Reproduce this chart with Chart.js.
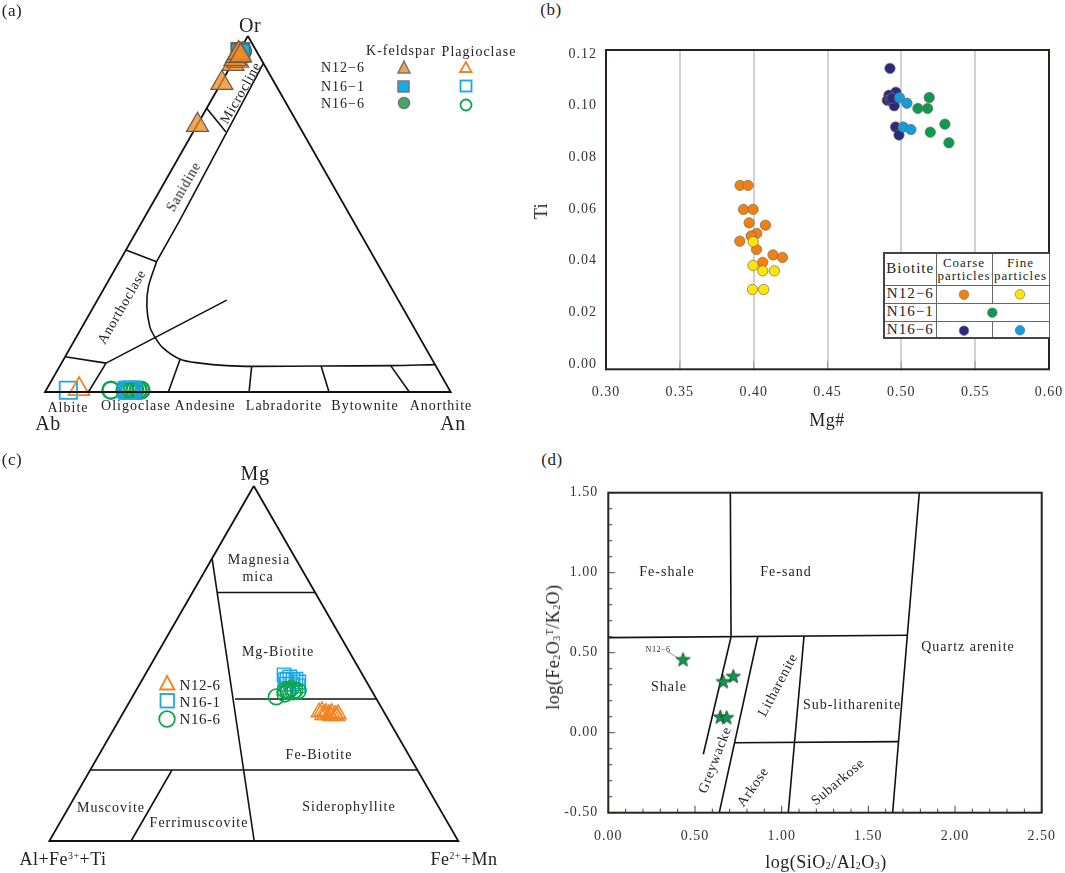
<!DOCTYPE html>
<html>
<head>
<meta charset="utf-8">
<title>Feldspar and biotite classification diagrams</title>
<script src="https://cdn.jsdelivr.net/npm/chart.js@4/dist/chart.umd.min.js"></script>
<style>
  html, body { margin: 0; background: #fff; }
  #page { position: relative; width: 1065px; height: 873px; overflow: hidden; font-family: "Liberation Serif", serif; color: #222; }
  canvas { position: absolute; }
  .t { position: absolute; white-space: nowrap; transform: translate(-50%, -50%); font-size: 14px; letter-spacing: 1px; line-height: 1; }
  .rot { letter-spacing: 0.7px; }
  .corner { font-size: 20px; letter-spacing: 0.5px; }
  .panel { font-size: 17px; letter-spacing: 0.5px; }
  .axis { font-size: 18px; letter-spacing: 0.5px; }
  .t sub, .t sup { font-size: 55%; line-height: 0; }
  .t sub { vertical-align: -0.15em; }
  .t sup { vertical-align: 0.65em; }
  #keys { position: absolute; left: 0; top: 0; z-index: 3; pointer-events: none; }
  table { position: absolute; left: 883px; top: 252px; width: 165px; height: 85px; border-collapse: collapse; background: #fff; table-layout: fixed; font-size: 15px; letter-spacing: 1px; text-align: center; z-index: 2; }
  td { border: 1px solid #666; padding: 0; line-height: 1.05; }
  table { border-top: 2px solid #444; border-left: 2px solid #444; border-bottom: 2px solid #444; }
  .small { font-size: 13px; }
</style>
</head>
<body>
<div id="page">
  <canvas id="chartA" width="530" height="440" style="left:0;top:0"></canvas>
  <canvas id="chartB" width="535" height="410" style="left:530px;top:30px"></canvas>
  <canvas id="chartC" width="500" height="423" style="left:0;top:450px"></canvas>
  <canvas id="chartD" width="535" height="403" style="left:530px;top:470px"></canvas>

  <span class="t panel" style="left:12px;top:10px">(a)</span>
  <span class="t panel" style="left:551px;top:9px">(b)</span>
  <span class="t panel" style="left:12px;top:459px">(c)</span>
  <span class="t panel" style="left:552px;top:459px">(d)</span>

  <!-- panel a -->
  <span class="t corner" style="left:250px;top:25px">Or</span>
  <span class="t corner" style="left:48px;top:423px">Ab</span>
  <span class="t corner" style="left:453px;top:423px">An</span>
  <span class="t rot" style="left:241px;top:93px;transform:translate(-50%,-50%) rotate(-60deg)">Microcline</span>
  <span class="t rot" style="left:184px;top:187px;transform:translate(-50%,-50%) rotate(-60deg)">Sanidine</span>
  <span class="t rot" style="left:122px;top:307px;transform:translate(-50%,-50%) rotate(-60deg)">Anorthoclase</span>
  <span class="t" style="left:68px;top:408px">Albite</span>
  <span class="t" style="left:136px;top:406px">Oligoclase</span>
  <span class="t" style="left:205px;top:406px">Andesine</span>
  <span class="t" style="left:284px;top:406px">Labradorite</span>
  <span class="t" style="left:365px;top:406px">Bytownite</span>
  <span class="t" style="left:441px;top:406px">Anorthite</span>
  <span class="t" style="left:401px;top:51px">K-feldspar</span>
  <span class="t" style="left:479px;top:52px">Plagioclase</span>
  <span class="t" style="left:343px;top:68px">N12−6</span>
  <span class="t" style="left:343px;top:87px">N16−1</span>
  <span class="t" style="left:343px;top:104px">N16−6</span>

  <!-- panel b -->
  <span class="t axis" style="left:541px;top:211px;transform:translate(-50%,-50%) rotate(-90deg)">Ti</span>
  <span class="t axis" style="left:827px;top:420px">Mg#</span>
  <table>
    <colgroup><col style="width:52px"><col style="width:56px"><col style="width:57px"></colgroup>
    <tr style="height:32px"><td>Biotite</td><td class="small">Coarse<br>particles</td><td class="small">Fine<br>particles</td></tr>
    <tr style="height:18px"><td>N12−6</td><td></td><td></td></tr>
    <tr style="height:18px"><td>N16−1</td><td colspan="2"></td></tr>
    <tr style="height:17px"><td>N16−6</td><td></td><td></td></tr>
  </table>

  <!-- panel c -->
  <span class="t corner" style="left:255px;top:473px">Mg</span>
  <span class="t corner" style="left:63px;top:859px;font-size:18px">Al+Fe<sup>3+</sup>+Ti</span>
  <span class="t corner" style="left:464px;top:859px;font-size:18px">Fe<sup>2+</sup>+Mn</span>
  <span class="t" style="left:259px;top:560px">Magnesia</span>
  <span class="t" style="left:258px;top:577px">mica</span>
  <span class="t" style="left:278px;top:652px">Mg-Biotite</span>
  <span class="t" style="left:319px;top:755px">Fe-Biotite</span>
  <span class="t" style="left:111px;top:808px">Muscovite</span>
  <span class="t" style="left:199px;top:823px">Ferrimuscovite</span>
  <span class="t" style="left:349px;top:807px">Siderophyllite</span>
  <span class="t" style="left:200px;top:685px;font-size:15px;letter-spacing:.5px">N12-6</span>
  <span class="t" style="left:200px;top:702px;font-size:15px;letter-spacing:.5px">N16-1</span>
  <span class="t" style="left:200px;top:719px;font-size:15px;letter-spacing:.5px">N16-6</span>

  <!-- panel d -->
  <span class="t axis" style="left:826px;top:862px">log(SiO<sub>2</sub>/Al<sub>2</sub>O<sub>3</sub>)</span>
  <span class="t axis" style="left:553px;top:647px;transform:translate(-50%,-50%) rotate(-90deg)">log(Fe<sub>2</sub>O<sub>3</sub><sup>T</sup>/K<sub>2</sub>O)</span>
  <span class="t" style="left:667px;top:572px">Fe-shale</span>
  <span class="t" style="left:786px;top:572px">Fe-sand</span>
  <span class="t" style="left:968px;top:647px">Quartz arenite</span>
  <span class="t" style="left:669px;top:687px">Shale</span>
  <span class="t" style="left:852px;top:705px">Sub-litharenite</span>
  <span class="t rot" style="left:778px;top:685px;transform:translate(-50%,-50%) rotate(-62deg)">Litharenite</span>
  <span class="t rot" style="left:715px;top:760px;transform:translate(-50%,-50%) rotate(-69deg)">Greywacke</span>
  <span class="t rot" style="left:753px;top:787px;transform:translate(-50%,-50%) rotate(-55deg)">Arkose</span>
  <span class="t rot" style="left:838px;top:782px;transform:translate(-50%,-50%) rotate(-40deg)">Subarkose</span>
  <span class="t" style="left:658px;top:650px;font-size:8px;letter-spacing:.5px">N12−6</span>

  <svg id="keys" width="1065" height="873">
    <g stroke="#777" stroke-width="1.5">
      <polygon points="404,61 410,73 398,73" fill="#EFA24F"/>
      <rect x="398" y="81" width="11" height="11" fill="#12AEE8"/>
      <circle cx="404" cy="103" r="5.5" fill="#3CA968"/>
    </g>
    <g fill="none" stroke-width="1.8">
      <polygon points="466,62 471.5,72 460,72" stroke="#F58220"/>
      <rect x="460.5" y="80.5" width="11" height="11" stroke="#1AA7E8"/>
      <circle cx="466" cy="105" r="5.5" stroke="#0DA44E"/>
    </g>
    <g fill="none" stroke-width="1.8">
      <polygon points="167,676 174.5,689.5 160,689.5" stroke="#F58220"/>
      <rect x="160.5" y="694" width="13.5" height="13.5" stroke="#1AA7E8"/>
      <circle cx="167" cy="719" r="7.8" stroke="#0DA44E"/>
    </g>
    <g stroke="#777" stroke-width="0.7">
      <circle cx="964" cy="294.7" r="4.8" fill="#F08010"/>
      <circle cx="1020" cy="294.3" r="4.8" fill="#FFE600"/>
      <circle cx="992.3" cy="312.7" r="4.8" fill="#0E9A4E"/>
      <circle cx="964" cy="330.7" r="4.8" fill="#2A2A80"/>
      <circle cx="1020" cy="330.3" r="4.8" fill="#0F9FE0"/>
    </g>
  </svg>
</div>

<script>
// ── Panel (a): feldspar ternary, values read as percent An / Or ───────────────
const kfsN126Or = [75.0, 86.8, 92.1, 93.0, 93.5, 94.4, 95.2, 94.5];
const kfsN126An = [0.1, 0.2, 0.3, 1.0, 0.1, 0.1, 0.1, 1.0];
const kfsN161Or = [95.6, 95.2];
const kfsN161An = [0.3, 0.6];
const kfsN166Or = [95.8];
const kfsN166An = [0.8];
const plgN126Or = [0.8];
const plgN126An = [8.0];
const plgN161Or = [0.5, 0.5, 0.5, 0.5];
const plgN161An = [5.5, 20.0, 20.6, 21.2];
const plgN166Or = [0.5, 0.5, 0.5, 0.5, 0.5, 0.5, 0.5];
const plgN166An = [16.0, 19.5, 20.5, 21.2, 21.9, 22.7, 23.4];

// field boundaries as [An, Or]
const feldsparFrame = [[0, 100], [100, 0], [0, 0], [0, 100]];
const feldsparInner = [[7.7, 92.3], [9.1, 48.3], [9.2, 36.6]];
const feldsparSolvus = [[9.2, 36.6], [10.7, 29.6], [13.1, 24.0], [16.7, 18.3], [19.3, 15.5], [23.0, 12.3], [28.7, 9.2], [34.2, 8.1], [41.1, 7.4], [47.7, 7.2], [65.0, 7.3], [81.3, 7.4], [92.3, 7.7]];
const feldsparDividers = [
  [[0, 79.7], [8.0, 73.1]],
  [[0, 39.9], [9.2, 36.6]],
  [[0, 9.9], [11.0, 8.1]],
  [[11.0, 8.1], [31.9, 25.8]],
  [[11.0, 8.1], [10.7, 0]],
  [[28.7, 9.2], [30.4, 0]],
  [[47.3, 7.3], [50.3, 0]],
  [[64.4, 7.3], [70.0, 0]],
  [[81.5, 7.4], [89.8, 0]]
];

// ── Panel (b): Mg# vs Ti ──────────────────────────────────────────────────────
const mgN126Coarse = [0.3908, 0.3962, 0.3931, 0.3996, 0.3969, 0.4080, 0.4021, 0.3983, 0.3906, 0.4019, 0.4131, 0.4195, 0.4061];
const tiN126Coarse = [0.0692, 0.0692, 0.0599, 0.0599, 0.0547, 0.0538, 0.0506, 0.0496, 0.0476, 0.0444, 0.0423, 0.0413, 0.0394];
const mgN126Fine = [0.3996, 0.3996, 0.4061, 0.4140, 0.3992, 0.4068];
const tiN126Fine = [0.0474, 0.0382, 0.0361, 0.0361, 0.0289, 0.0289];
const mgN161 = [0.5189, 0.5112, 0.5178, 0.5295, 0.5196, 0.5322];
const tiN161 = [0.1032, 0.0990, 0.0990, 0.0929, 0.0898, 0.0857];
const mgN166Coarse = [0.4923, 0.4963, 0.4916, 0.4905, 0.4925, 0.4952, 0.4936, 0.4961, 0.4984];
const tiN166Coarse = [0.1145, 0.1053, 0.1041, 0.1021, 0.1022, 0.1000, 0.1029, 0.0918, 0.0887];
const mgN166Fine = [0.4988, 0.5038, 0.5013, 0.5065];
const tiN166Fine = [0.1031, 0.1010, 0.0918, 0.0908];
const mgTicks = [0.30, 0.35, 0.40, 0.45, 0.50, 0.55, 0.60];
const tiTicks = [0.00, 0.02, 0.04, 0.06, 0.08, 0.10, 0.12];

// ── Panel (c): biotite ternary, values read as percent Fe / Mg ────────────────
const bioN126Mg = [36.3, 36.6, 36.1, 35.8, 36.1, 35.5, 35.8, 35.5, 35.2, 35.2, 35.5];
const bioN126Fe = [47.8, 48.4, 49.6, 50.5, 51.0, 52.2, 52.7, 49.7, 51.3, 52.7, 49.1];
const bioN161Mg = [46.8, 45.6, 46.2, 45.4, 45.6, 44.8, 44.2, 44.2, 43.7, 45.4];
const bioN161Fe = [34.0, 35.3, 35.7, 36.9, 37.5, 38.6, 35.8, 37.2, 39.0, 34.9];
const bioN166Mg = [40.6, 42.5, 42.5, 43.1, 42.5, 42.3, 42.0, 42.0, 41.4];
const bioN166Fe = [35.2, 36.4, 37.1, 37.7, 38.8, 39.7, 37.4, 38.6, 36.9];

// field boundaries as [Fe, Mg]
const biotiteFrame = [[0, 100], [100, 0], [0, 0], [0, 100]];
const biotiteDividers = [
  [[0, 79.6], [50.1, 0]],
  [[6.1, 70], [30, 70]],
  [[25.4, 40], [60, 40]],
  [[0, 20], [80, 20]],
  [[20, 20], [20, 0]]
];

// ── Panel (d): sandstone classification ───────────────────────────────────────
const siAlStars = [0.431, 0.721, 0.663, 0.646, 0.683];
const feKStars = [0.454, 0.350, 0.317, 0.096, 0.092];
const sandBoundaries = [
  [[0.704, 1.5], [0.708, 0.598]],
  [[0, 0.594], [1.725, 0.609]],
  [[1.794, 1.5], [1.725, 0.609], [1.640, -0.5]],
  [[0.708, 0.598], [0.548, -0.135]],
  [[0.862, 0.598], [0.640, -0.5]],
  [[1.129, 0.604], [1.038, -0.5]],
  [[0.727, -0.0625], [1.673, -0.056]]
];
const calloutLeader = [[0.345, 0.505], [0.405, 0.465]];
const siAlMajor = [0, 0.5, 1, 1.5, 2, 2.5];
const siAlMinor = [0.1, 0.2, 0.3, 0.4, 0.6, 0.7, 0.8, 0.9, 1.1, 1.2, 1.3, 1.4, 1.6, 1.7, 1.8, 1.9, 2.1, 2.2, 2.3, 2.4];
const feKMajor = [-0.5, 0, 0.5, 1, 1.5];
const feKMinor = [-0.4, -0.3, -0.2, -0.1, 0.1, 0.2, 0.3, 0.4, 0.6, 0.7, 0.8, 0.9, 1.1, 1.2, 1.3, 1.4];

// ── Helpers ───────────────────────────────────────────────────────────────────
// third corner on the right of the base, second corner at the apex
const ternary = (right, top) => ({ x: (right + top / 2) / 100, y: top / 100 });
const zipTernary = (rights, tops) => rights.map((r, i) => ternary(r, tops[i]));
const zipXY = (xs, ys) => xs.map((x, i) => ({ x, y: ys[i] }));

function lineSet(points, extra) {
  return Object.assign({
    type: "line", data: points, borderColor: "#111", borderWidth: 1.6,
    pointRadius: 0, fill: false, tension: 0, clip: false, order: 5
  }, extra);
}

function markSet(points, style, radius, fill, stroke, width, order) {
  return {
    type: "scatter", data: points, pointStyle: style, pointRadius: radius,
    backgroundColor: fill, borderColor: stroke, borderWidth: width,
    clip: false, order
  };
}

const spacedText = {
  id: "spacedText",
  beforeDraw(chart) { chart.ctx.letterSpacing = "1px"; }
};

// frame round the plot plus short ticks pointing into it
function framePlugin(width, xMajor, xMinor, yMajor, yMinor, tickColor, majorLen, minorLen) {
  return {
    id: "framePlot",
    afterDatasetsDraw(chart) {
      const { ctx, chartArea: a, scales } = chart;
      ctx.save();
      ctx.strokeStyle = tickColor;
      ctx.lineWidth = 1;
      const tickX = (v, len) => {
        const p = scales.x.getPixelForValue(v);
        ctx.beginPath(); ctx.moveTo(p, a.bottom); ctx.lineTo(p, a.bottom - len); ctx.stroke();
      };
      const tickY = (v, len) => {
        const p = scales.y.getPixelForValue(v);
        ctx.beginPath(); ctx.moveTo(a.left, p); ctx.lineTo(a.left + len, p); ctx.stroke();
      };
      xMajor.forEach(v => tickX(v, majorLen));
      xMinor.forEach(v => tickX(v, minorLen));
      yMajor.forEach(v => tickY(v, majorLen));
      yMinor.forEach(v => tickY(v, minorLen));
      ctx.strokeStyle = "#2a2320";
      ctx.lineWidth = width;
      ctx.strokeRect(a.left, a.top, a.right - a.left, a.bottom - a.top);
      ctx.restore();
    }
  };
}

function ternaryChart(id, padding, datasets) {
  return new Chart(document.getElementById(id), {
    data: { datasets },
    options: {
      responsive: false, animation: false,
      layout: { padding },
      plugins: { legend: { display: false }, tooltip: { enabled: false } },
      scales: {
        x: { type: "linear", min: 0, max: 1, display: false },
        y: { type: "linear", min: 0, max: 1, display: false }
      }
    }
  });
}

function cartesianOptions(left, right, top, bottom, xCfg, yCfg) {
  const tickFont = { family: "Liberation Serif", size: 14 };
  const ticksFor = values => scale => { scale.ticks = values.map(value => ({ value })); };
  return {
    responsive: false, animation: false,
    layout: { padding: { left: 0, top, right, bottom: 0 } },
    plugins: { legend: { display: false }, tooltip: { enabled: false } },
    scales: {
      x: {
        type: "linear", min: xCfg.min, max: xCfg.max,
        afterBuildTicks: ticksFor(xCfg.ticks),
        // the end labels must not pull the plot area in
        afterFit: s => { s.height = bottom; s.paddingLeft = 0; s.paddingRight = 0; },
        grid: xCfg.grid,
        border: { display: false },
        ticks: { autoSkip: false, maxRotation: 0, padding: xCfg.padding, color: "#333", font: tickFont, callback: v => v.toFixed(2) }
      },
      y: {
        type: "linear", min: yCfg.min, max: yCfg.max,
        afterBuildTicks: ticksFor(yCfg.ticks),
        afterFit: s => { s.width = left; s.paddingTop = 0; s.paddingBottom = 0; },
        grid: { display: false, drawTicks: false },
        border: { display: false },
        ticks: { autoSkip: false, padding: yCfg.padding, color: "#333", font: tickFont, callback: v => v.toFixed(2) }
      }
    }
  };
}

// 5-pointed star sprite, the built-in "star" is only an asterisk
function starSprite(size, fill, stroke) {
  const c = document.createElement("canvas");
  c.width = c.height = size;
  const g = c.getContext("2d");
  const mid = size / 2, outer = mid - 1, inner = outer * 0.42;
  g.beginPath();
  for (let i = 0; i < 10; i++) {
    const r = i % 2 ? inner : outer;
    const ang = -Math.PI / 2 + i * Math.PI / 5;
    g.lineTo(mid + r * Math.cos(ang), mid + r * Math.sin(ang));
  }
  g.closePath();
  g.fillStyle = fill; g.fill();
  g.strokeStyle = stroke; g.lineWidth = 0.8; g.stroke();
  return c;
}

// ── Chart A ───────────────────────────────────────────────────────────────────
const orange = "#F58220", blue = "#1AA7E8", green = "#0DA44E";
const pairsToTernary = pairs => pairs.map(p => ternary(p[0], p[1]));

ternaryChart("chartA", { left: 45, right: 79.3, top: 36, bottom: 48 }, [
  // higher order sits underneath
  markSet(zipTernary(plgN166An, plgN166Or), "circle", 8.5, "rgba(0,0,0,0)", green, 2.4, 9),
  markSet(zipTernary(plgN161An, plgN161Or), "rect", 12.2, "rgba(0,0,0,0)", blue, 1.8, 8),
  markSet(zipTernary(plgN126An, plgN126Or), "triangle", 12, "rgba(0,0,0,0)", orange, 1.8, 7),
  lineSet(pairsToTernary(feldsparFrame), { borderWidth: 1.8 }),
  lineSet(pairsToTernary(feldsparInner)),
  lineSet(pairsToTernary(feldsparSolvus), { tension: 0.35 }),
  ...feldsparDividers.map(d => lineSet(pairsToTernary(d))),
  markSet(zipTernary(kfsN166An, kfsN166Or), "circle", 9, "#3CA968", "#555", 1.2, 3),
  markSet(zipTernary(kfsN161An, kfsN161Or), "rect", 12.7, "#12AEE8", "#666", 1.5, 2),
  markSet(zipTernary(kfsN126An, kfsN126Or), "triangle", 12.7, "rgba(240,140,40,0.78)", "#6a5a4a", 1.2, 1)
]);

// ── Chart B ───────────────────────────────────────────────────────────────────
const dotSet = (xs, ys, fill, order) => markSet(zipXY(xs, ys), "circle", 5.2, fill, "#7a6a5a", 0.7, order);

new Chart(document.getElementById("chartB"), {
  data: {
    datasets: [
      dotSet(mgN126Coarse, tiN126Coarse, "#F08010", 5),
      dotSet(mgN126Fine, tiN126Fine, "#FFE600", 4),
      dotSet(mgN166Coarse, tiN166Coarse, "#2A2A80", 3),
      dotSet(mgN161, tiN161, "#0E9A4E", 2),
      dotSet(mgN166Fine, tiN166Fine, "#0F9FE0", 1)
    ]
  },
  options: cartesianOptions(76, 16, 20, 70.7,
    { min: 0.30, max: 0.60, ticks: mgTicks, padding: 15, grid: { color: "#d2d2d2", lineWidth: 2, drawTicks: false } },
    { min: -0.002, max: 0.1216, ticks: tiTicks, padding: 9 }),
  plugins: [spacedText, framePlugin(2, mgTicks.slice(1, -1), [], [], [], "#999", 8, 0)]
});

// ── Chart C ───────────────────────────────────────────────────────────────────
ternaryChart("chartC", { left: 49.3, right: 41.7, top: 36, bottom: 32 }, [
  lineSet(pairsToTernary(biotiteFrame), { borderWidth: 1.8, order: 9 }),
  ...biotiteDividers.map(d => lineSet(pairsToTernary(d), { order: 9 })),
  markSet(zipTernary(bioN161Fe, bioN161Mg), "rect", 9.5, "rgba(0,0,0,0)", blue, 1.4, 3),
  markSet(zipTernary(bioN126Fe, bioN126Mg), "triangle", 9, "rgba(0,0,0,0)", orange, 1.5, 2),
  markSet(zipTernary(bioN166Fe, bioN166Mg), "circle", 7.8, "rgba(0,0,0,0)", green, 1.6, 1)
]);

// ── Chart D ───────────────────────────────────────────────────────────────────
const pairsToXY = pairs => pairs.map(p => ({ x: p[0], y: p[1] }));

new Chart(document.getElementById("chartD"), {
  data: {
    datasets: [
      ...sandBoundaries.map(b => lineSet(pairsToXY(b))),
      lineSet(pairsToXY(calloutLeader), { borderWidth: 0.6, borderColor: "#555" }),
      markSet(zipXY(siAlStars, feKStars), starSprite(17, "#0E9A4E", "#1a3a2a"), 9, "#0E9A4E", "#1a3a2a", 0, 1)
    ]
  },
  options: cartesianOptions(78.3, 23.3, 22.7, 60.3,
    { min: 0, max: 2.5, ticks: siAlMajor, padding: 15, grid: { display: false, drawTicks: false } },
    { min: -0.5, max: 1.5, ticks: feKMajor, padding: 10 }),
  plugins: [spacedText, framePlugin(2, siAlMajor, siAlMinor, feKMajor, feKMinor, "#444", 7, 4)]
});
</script>
</body>
</html>
